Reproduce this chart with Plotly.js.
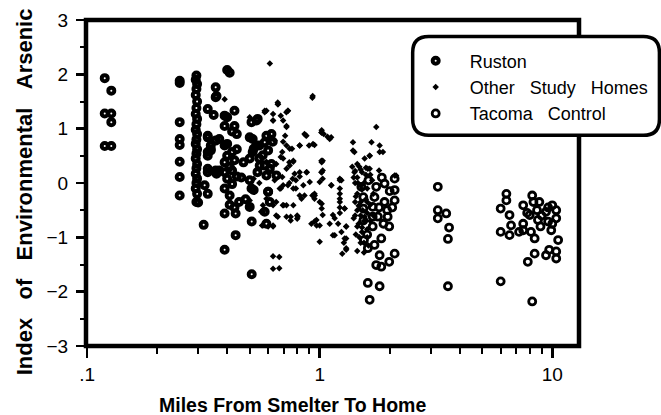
<!DOCTYPE html>
<html>
<head>
<meta charset="utf-8">
<script src="https://cdn.plot.ly/plotly-3.0.1.min.js"></script>
<style>html,body{margin:0;padding:0;background:#fff;}#chart{width:661px;height:415px;}</style>
</head>
<body>
<div id="chart"></div>
<script>
// ---- data (miles from smelter, index of environmental arsenic) ----
var rustonX = [0.119,0.127,0.119,0.127,0.127,0.119,0.127,
  0.25,0.25,0.25,0.25,0.25,0.25,0.25,0.25,
  0.295,0.293,0.297,0.295,0.293,0.297,0.295,0.293,0.297,0.295,0.293,0.297,0.295,0.293,0.297,0.295,0.293,0.297,0.295,0.293,0.297,0.295,0.293,0.297,0.295,
  0.317,
  0.33,0.357,0.357,0.33,0.357,0.33,0.33,0.357,0.32,0.33,0.34,0.35,0.34,
  0.40,0.41,0.43,0.39,0.40,0.43,0.39,0.44,0.40,0.39,0.42,0.40,0.39,0.42,0.37,0.39,0.40,0.39,0.41,0.33,0.36,0.36,0.33,0.37,0.33,0.34,
  0.42,0.44,0.43,0.41,0.44,0.42,0.43,0.41,
  0.39,0.435,0.435,0.39,0.51,0.51,0.30,
  0.535,0.50,0.62,0.52,0.55,0.55,0.58,0.54,0.59,0.50,0.52,0.60,0.47,0.48,0.60,0.58,0.62,0.45,0.46,
  0.515,0.534,0.59,0.628,0.515,0.569,0.50,0.552,0.61,0.651,0.60,0.61,0.58,0.509,0.50,0.59,0.509,0.541];
var rustonY = [1.93,1.70,1.28,1.28,1.12,0.68,0.68,
  1.88,1.84,1.12,0.81,0.70,0.39,0.11,-0.23,
  1.98,1.90,1.82,1.73,1.62,1.50,1.38,1.27,1.18,1.08,0.98,0.90,0.80,0.72,0.62,0.54,0.45,0.35,0.27,0.17,0.08,0.00,-0.10,-0.20,-0.35,
  -0.77,
  1.36,1.76,1.58,0.84,0.78,0.50,0.26,0.23,-0.04,-0.20,0.62,1.25,0.60,
  2.08,2.03,1.33,1.24,1.21,1.05,1.05,0.90,0.72,0.69,0.57,0.50,0.38,0.23,0.23,0.20,0.08,-0.10,-0.23,0.20,0.17,1.60,0.87,0.81,0.57,0.69,
  0.95,0.62,0.42,0.30,0.12,-0.02,-0.45,-0.40,
  -0.56,-0.56,-0.96,-1.23,-0.71,-1.68,-0.36,
  1.15,0.84,0.90,0.63,0.69,0.45,0.32,0.20,0.14,0.05,-0.13,-0.16,0.38,-0.30,0.60,0.75,0.35,-0.35,0.10,
  0.81,0.69,0.87,0.76,0.57,0.51,0.45,0.32,0.26,0.14,-0.16,-0.35,-0.53,-0.10,-0.44,-0.75,1.12,1.18];

var otherX = [0.61,0.93,0.66,0.73,0.59,0.63,0.72,0.68,0.87,0.95,0.82,1.02,1.08,0.71,0.72,0.69,0.77,0.82,0.88,1.02,1.02,1.00,0.74,0.68,0.59,0.61,0.55,0.52,0.69,0.79,0.85,0.93,0.82,
  0.39,1.75,1.12,1.39,1.39,1.67,1.81,1.87,1.64,1.61,2.13,1.22,1.22,1.22,
  0.86,1.02,1.04,0.90,0.74,1.03,1.03,1.03,1.12,1.22,1.22,0.86,0.95,0.95,1.02,1.02,1.03,1.14,1.16,1.28,0.95,0.97,1.30,1.14,1.28,1.30,1.00,0.77,0.80,0.80,0.77,
  0.50,0.56,0.57,0.565,0.60,0.66,0.70,0.75,0.75,0.63,0.63,
  1.24,1.28,1.30,1.30,1.30,1.41,1.64,1.81,2.10,1.41,1.64,1.80,
  0.66,0.58,0.73,0.63,0.72,0.64,0.76,0.68,0.77,0.65,0.72,0.78,0.64,0.73,0.79,0.59,0.65,0.72,0.50,0.50,0.57,0.65,0.72,0.57,0.63,0.67,0.67,0.50,
  1.45,1.50,1.55,1.60,1.45,1.50,1.58,1.65,1.45,1.50,1.55,1.60,1.45,1.52,1.60,1.48,1.55,1.62,1.42,1.42,1.70,1.70,1.68,1.40,1.58,1.50,1.45,1.56,
  0.696,0.743,0.696,0.743,0.765,0.82,0.877,0.906,0.696,0.673,0.63,0.694,0.804,0.921,0.968,1.00,0.835,0.952,1.00,1.017,1.017,1.104,1.017,0.877,0.936,0.82,1.123,1.16,1.104,0.933,0.662,0.58,0.63,0.719,0.696,0.63,
  1.22,1.22,1.22,1.20,1.24,1.27,1.25,
  1.38,1.42,1.48,1.52,1.58,1.40,1.46,1.52,1.43,1.47,1.53,1.42,1.47,1.52,1.43,1.50,1.45,1.55,1.60,1.65,1.60,1.65,1.56];
var otherY = [2.20,1.57,1.45,1.33,1.33,1.15,1.05,1.24,0.88,0.70,0.69,0.93,0.85,0.87,0.69,0.57,0.39,0.20,0.20,0.38,0.20,0.02,0.00,-0.10,0.39,0.20,0.00,0.08,0.11,0.05,-0.04,-0.23,-0.23,
  1.54,1.03,0.84,0.75,0.60,0.75,0.69,0.57,0.50,0.26,0.14,0.08,-0.10,-0.29,
  0.90,0.97,0.90,0.69,0.38,0.41,0.23,0.08,-0.04,0.05,-0.20,-0.23,-0.20,-0.29,-0.38,-0.47,-0.59,-0.59,-0.65,-0.47,-0.71,-0.78,-0.80,-0.96,-1.02,-1.23,-1.08,-0.41,-0.60,-0.66,-0.10,
  -0.43,-0.53,-0.41,-0.78,-0.80,-0.62,-0.41,-0.62,-0.69,-1.35,-1.58,
  0.05,-0.47,-0.80,-1.02,-1.20,0.57,0.50,0.57,0.14,0.20,0.26,0.23,
  1.48,1.33,1.33,1.15,1.03,0.78,0.63,0.48,0.41,0.35,0.26,0.17,0.05,-0.04,-0.10,-0.29,-0.35,-0.41,-0.32,-0.47,-0.53,-0.60,-0.62,-0.78,-0.80,-1.36,-1.57,1.21,
  0.10,-0.05,0.00,-0.10,-0.20,-0.35,-0.30,-0.40,-0.50,-0.60,-0.70,-0.55,-0.80,-0.90,-0.85,-1.00,-1.10,-1.15,-0.35,0.00,-0.20,-0.60,0.05,-0.65,0.15,0.25,0.35,0.45,
  0.76,0.63,0.45,0.32,0.08,0.12,0.20,0.02,-0.04,-0.10,-0.41,-0.41,-0.62,-0.75,-0.68,-0.78,-0.29,-0.23,-0.35,0.20,0.41,0.81,0.93,0.87,0.72,0.69,-0.04,-0.96,-0.75,1.60,1.45,1.30,1.27,1.30,1.15,-0.78,
  -0.35,-0.45,-0.55,-0.75,-0.90,-1.10,-1.30,
  0.30,0.22,0.30,0.20,0.28,0.10,0.00,-0.12,-0.25,-0.42,-0.50,-0.60,-0.75,-0.82,-0.95,-1.10,-1.25,-1.28,-1.00,-0.70,-0.35,0.15,-0.62];

var tacomaX = [1.90,2.10,2.10,1.75,1.54,1.72,1.90,1.69,1.96,1.69,1.54,1.99,1.69,1.84,1.72,1.81,2.10,1.99,1.75,1.84,1.61,1.81,1.64,1.54,1.51,2.10,1.61,1.85,2.00,1.80,1.95,2.05,1.60,1.88,1.78,1.62,1.55,
  3.22,3.22,3.50,3.22,3.60,3.56,3.56,
  6.35,6.35,6.00,6.55,6.00,6.55,6.65,6.00,7.50,8.20,8.00,8.80,8.60,9.40,10.0,10.4,10.4,9.60,8.68,7.50,7.50,8.10,8.40,7.20,10.6,9.70,10.4,10.4,9.40,8.40,7.85,8.20,9.90,10.0,8.30,9.00,7.80,8.90,9.60];
var tacomaY = [-0.01,-0.13,-0.32,-0.07,-0.26,-0.26,-0.35,-0.44,-0.62,-0.62,-0.69,-0.80,-0.80,-1.02,-1.14,-1.33,-1.30,-1.45,-1.51,-1.54,-1.84,-1.90,-2.15,-0.47,-0.07,0.08,-1.20,0.10,-0.15,-0.45,-0.50,-0.45,-0.95,-0.75,-0.62,0.05,-1.05,
  -0.07,-0.50,-0.56,-0.65,-0.82,-1.03,-1.90,
  -0.20,-0.32,-0.47,-0.59,-0.90,-0.96,-0.78,-1.81,-0.41,-0.23,-0.59,-0.35,-0.50,-0.53,-0.41,-0.50,-0.65,-0.71,-0.68,-0.75,-0.87,-0.90,-1.02,-0.90,-1.05,-1.23,-1.26,-1.39,-1.33,-1.30,-1.45,-2.18,-0.87,-0.75,-0.35,-0.60,-0.55,-0.80,-0.45];

var seriesNames = ['Ruston','Other\u00a0\u00a0 Study\u00a0\u00a0 Homes','Tacoma\u00a0\u00a0 Control'];
var xTickVals = [0.1,1,10];
var xTickText = ['.1','1','10'];
var xMinorVals = [0.2,0.3,0.4,0.5,0.6,0.7,0.8,0.9,2,3,4,5,6,7,8,9];
var xTitle = 'Miles From Smelter To Home';
var yTitle = ['Index','of','Environmental','Arsenic'];

// ---- layout helpers (pixel geometry) ----
var W = 661, H = 415;
var L = 86, R = 579.5, T = 19.5, B = 346;
function px(x){ return (x - L) / (R - L); }
function py(y){ return (B - y) / (B - T); }
var FONT = '"Liberation Sans", Arial, Helvetica, sans-serif';

var traces = [
  {x: rustonX, y: rustonY, name: seriesNames[0], type: 'scatter', mode: 'markers',
   marker: {symbol: 'circle-open', size: 6, color: '#000', line: {width: 4, color: '#000'}}},
  {x: otherX, y: otherY, name: seriesNames[1], type: 'scatter', mode: 'markers',
   marker: {symbol: 'diamond', size: 5, color: '#000', line: {width: 0}}},
  {x: tacomaX, y: tacomaY, name: seriesNames[2], type: 'scatter', mode: 'markers',
   marker: {symbol: 'circle-open', size: 7, color: '#000', line: {width: 2.8, color: '#000'}}}
];

// rounded legend box
var bx0 = 413, bx1 = 660, by0 = 36, by1 = 135, r = 16;
function P(x, y){ return px(x) + ',' + py(y); }
var boxPath = 'M' + P(bx0 + r, by0) + ' L' + P(bx1 - r, by0) + ' Q' + P(bx1, by0) + ' ' + P(bx1, by0 + r) +
  ' L' + P(bx1, by1 - r) + ' Q' + P(bx1, by1) + ' ' + P(bx1 - r, by1) +
  ' L' + P(bx0 + r, by1) + ' Q' + P(bx0, by1) + ' ' + P(bx0, by1 - r) +
  ' L' + P(bx0, by0 + r) + ' Q' + P(bx0, by0) + ' ' + P(bx0 + r, by0) + ' Z';

var sp = '\u00a0\u00a0\u00a0';
var layout = {
  width: W, height: H,
  margin: {l: L, r: W - R, t: T, b: H - B, pad: 0, autoexpand: false},
  paper_bgcolor: '#fff', plot_bgcolor: '#fff',
  font: {family: FONT, color: '#000', size: 18},
  showlegend: true,
  legend: {x: px(402), y: py(42), xanchor: 'left', yanchor: 'top', bgcolor: 'rgba(0,0,0,0)',
           borderwidth: 0, font: {family: FONT, size: 18, color: '#000'}, itemwidth: 58, tracegroupgap: 0},
  xaxis: {type: 'log', range: [Math.log10(0.1) - 0.005, 1.115], tickmode: 'array', tickvals: xTickVals, ticktext: xTickText,
          ticks: 'outside', ticklen: 11, tickwidth: 2.5, tickcolor: '#000', showgrid: false, zeroline: false, showline: false,
          tickfont: {family: FONT, size: 19, color: '#000'},
          minor: {tickmode: 'array', tickvals: xMinorVals, ticks: 'outside', ticklen: 7, tickwidth: 2, tickcolor: '#000', showgrid: false}},
  yaxis: {range: [-3, 3], tickmode: 'linear', tick0: 0, dtick: 1, ticks: 'outside', ticklen: 9, tickwidth: 2.5, tickcolor: '#000',
          showgrid: false, zeroline: false, showline: false, ticklabelstandoff: 4, tickfont: {family: FONT, size: 19, color: '#000'},
          minor: {tickmode: 'linear', tick0: 0, dtick: 0.5, ticks: 'outside', ticklen: 5, tickwidth: 2, tickcolor: '#000', showgrid: false}},
  shapes: [
    {type: 'rect', xref: 'paper', yref: 'paper', x0: 0, x1: 1, y0: 0, y1: 1, line: {color: '#000', width: 4.5}, layer: 'above'},
    {type: 'path', xref: 'paper', yref: 'paper', path: boxPath, fillcolor: '#fff', line: {color: '#000', width: 3.5}, layer: 'above'}
  ],
  annotations: [
    {text: xTitle, xref: 'paper', yref: 'paper', x: px(293), y: py(405), xanchor: 'center', yanchor: 'middle', showarrow: false,
     font: {family: FONT, size: 19.5, color: '#000', weight: 'bold'}},
    {text: yTitle.join(sp), xref: 'paper', yref: 'paper', x: px(24), y: py(192), xanchor: 'center', yanchor: 'middle', showarrow: false,
     textangle: -90, font: {family: FONT, size: 22, color: '#000', weight: 'bold'}}
  ]
};

Plotly.newPlot('chart', traces, layout, {displayModeBar: false, staticPlot: true});
</script>
</body>
</html>
